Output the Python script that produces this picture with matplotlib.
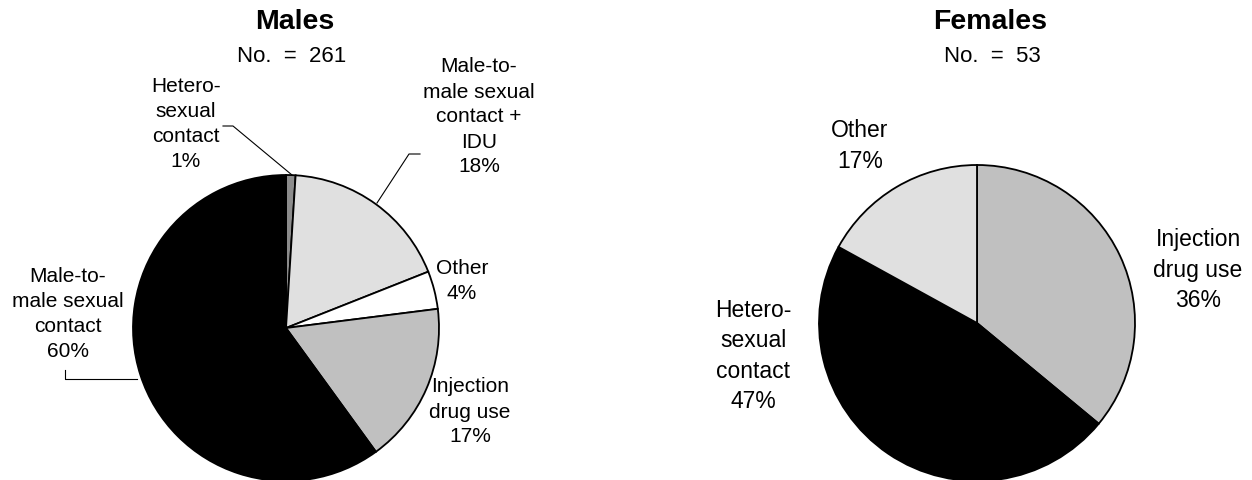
import matplotlib
matplotlib.use('Agg')
import matplotlib.pyplot as plt

plt.rcParams['font.family'] = ['Liberation Sans', 'DejaVu Sans']

# data
male_labels = ['Hetero-\nsexual\ncontact', 'Male-to-\nmale sexual\ncontact +\nIDU', 'Other',
               'Injection\ndrug use', 'Male-to-\nmale sexual\ncontact']
male_pct = [1, 18, 4, 17, 60]
male_colors = ['#8c8c8c', '#e0e0e0', '#ffffff', '#c0c0c0', '#000000']

female_labels = ['Injection\ndrug use', 'Hetero-\nsexual\ncontact', 'Other']
female_pct = [36, 47, 17]
female_colors = ['#c0c0c0', '#000000', '#e0e0e0']

W, H = 1252, 480
fig = plt.figure(figsize=(W/100., H/100.), dpi=100)
ax = fig.add_axes([0, 0, 1, 1])

def Y(y):
	return H - y

wp = dict(edgecolor='black', linewidth=1.3)
ax.pie(male_pct, colors=male_colors, startangle=90, counterclock=False,
	center=(286, Y(328)), radius=153, wedgeprops=wp, frame=True)
ax.pie(female_pct, colors=female_colors, startangle=90, counterclock=False,
	center=(977, Y(323)), radius=158, wedgeprops=wp, frame=True)

ax.set_xlim(0, W)
ax.set_ylim(0, H)
ax.set_aspect('equal')
ax.axis('off')

ls = 1.4
# titles
ax.text(295, Y(22), 'Males', ha='center', va='center', fontsize=20.5, fontweight='bold')
ax.text(292, Y(57), 'No.  =  261', ha='center', va='center', fontsize=16)
ax.text(990, Y(22), 'Females', ha='center', va='center', fontsize=20.5, fontweight='bold')
ax.text(992, Y(57), 'No.  =  53', ha='center', va='center', fontsize=16)

# male labels
mpos = [(186, 124), (479, 117), (462, 281), (470, 412), (68, 314)]
for (x, y), lab, p in zip(mpos, male_labels, male_pct):
	ax.text(x, Y(y), lab+'\n'+str(p)+'%', ha='center', va='center', fontsize=15, linespacing=ls)

# female labels
fpos = [(1198, 270), (753, 356), (860, 146)]
for (x, y), lab, p in zip(fpos, female_labels, female_pct):
	ax.text(x, Y(y), lab+'\n'+str(p)+'%', ha='center', va='center', fontsize=16.5, linespacing=ls)

# leader lines
ax.plot([223, 233, 292], [Y(126), Y(126), Y(175)], color='black', lw=0.8)
ax.plot([420, 409, 377], [Y(154), Y(154), Y(203)], color='black', lw=0.8)
ax.plot([65, 65, 137], [Y(370), Y(379), Y(379)], color='black', lw=0.8)

fig.savefig('out.png', dpi=100)
